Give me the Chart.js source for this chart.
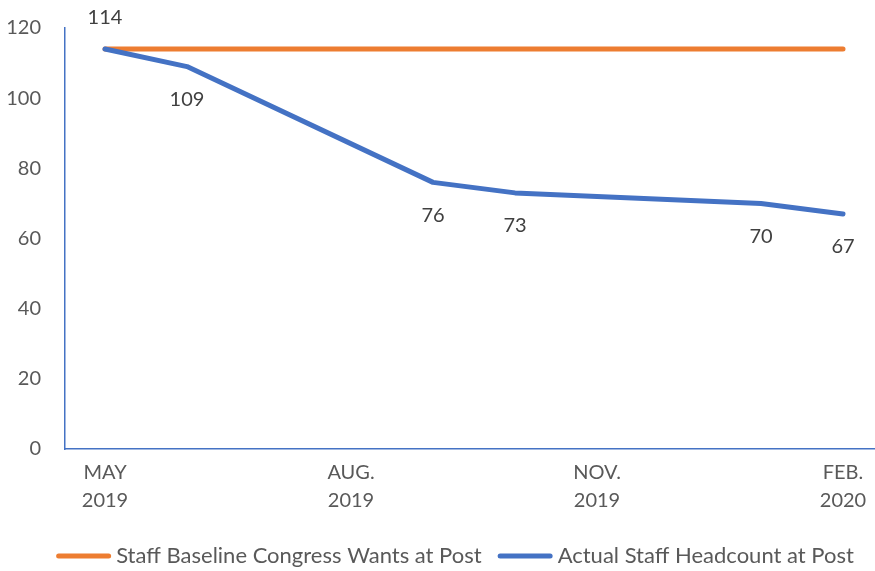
<!DOCTYPE html>
<html>
<head>
<meta charset="utf-8">
<script src="https://cdn.jsdelivr.net/npm/chart.js@4.4.1/dist/chart.umd.min.js"></script>
<style>
  html, body { margin: 0; padding: 0; background: #fff; }
  #wrap { width: 875px; height: 571px; }
</style>
</head>
<body>
<div id="wrap"><canvas id="chartJSContainer" width="875" height="571"></canvas></div>
<script>
// monthly points, May 2019 .. Feb 2020
const months = ['May 2019','Jun 2019','Jul 2019','Aug 2019','Sep 2019','Oct 2019','Nov 2019','Dec 2019','Jan 2020','Feb 2020'];
const baseline = [114,114,114,114,114,114,114,114,114,114];
const actual = [114,109,null,null,76,73,null,71,70,67];
const labelled = [true,true,false,false,true,true,false,false,true,true];
const tickPositions = [0,3,6,9];
const tickLabels = [['MAY','2019'],['AUG.','2019'],['NOV.','2019'],['FEB.','2020']];
const yTicks = [0,20,40,60,80,100,120];

const ORANGE = '#ED7D31';
const BLUE = '#4472C4';
const FONT = 'Lato';

const toPoints = (arr) => arr.map((v,i)=>({x:i, y:v}));

const valueLabels = {
  id: 'valueLabels',
  afterDatasetsDraw(chart){
    const meta = chart.getDatasetMeta(1);
    const ctx = chart.ctx;
    ctx.save();
    ctx.font = '20px ' + FONT;
    ctx.fillStyle = '#404040';
    ctx.textAlign = 'center';
    ctx.textBaseline = 'middle';
    meta.data.forEach((pt,i)=>{
      if(!labelled[i] || actual[i]==null) return;
      const dy = i===0 ? -32 : 33; //first label sits above the line
      ctx.fillText(String(actual[i]), pt.x, pt.y + dy);
    });
    ctx.restore();
  }
};

// legend drawn by hand so the spacing matches the Excel one
const lineLegend = {
  id: 'lineLegend',
  afterDraw(chart){
    const ctx = chart.ctx;
    const sets = chart.data.datasets;
    const lineW = 55, textGap = 5, itemGap = 16, cy = 556, cx = 455;
    ctx.save();
    ctx.font = '22px ' + FONT;
    const widths = sets.map(d => lineW + textGap + ctx.measureText(d.label).width);
    const total = widths.reduce((a,b)=>a+b,0) + itemGap*(sets.length-1);
    let x = cx - total/2;
    sets.forEach((d,i)=>{
      ctx.strokeStyle = d.borderColor;
      ctx.lineWidth = 5;
      ctx.lineCap = 'round';
      ctx.beginPath();
      ctx.moveTo(x+2.5, cy);
      ctx.lineTo(x+lineW-2.5, cy);
      ctx.stroke();
      ctx.fillStyle = '#595959';
      ctx.textBaseline = 'middle';
      ctx.textAlign = 'left';
      ctx.fillText(d.label, x + lineW + textGap, cy);
      x += widths[i] + itemGap;
    });
    ctx.restore();
  }
};

var options = {
  type: 'line',
  data: {
    datasets: [
      {
        label: 'Staff Baseline Congress Wants at Post',
        data: toPoints(baseline),
        borderColor: ORANGE,
        backgroundColor: ORANGE,
        borderWidth: 5,
        pointRadius: 0,
        borderCapStyle: 'round',
        order: 1,
      },
      {
        label: 'Actual Staff Headcount at Post',
        data: toPoints(actual),
        borderColor: BLUE,
        backgroundColor: BLUE,
        borderWidth: 5,
        pointRadius: 0,
        spanGaps: true,
        borderCapStyle: 'round',
        borderJoinStyle: 'round',
        order: 0,
      },
    ],
  },
  options: {
    responsive: false,
    animation: false,
    layout: { padding: { top: 22, left: 0, right: 0, bottom: 38 } },
    scales: {
      x: {
        type: 'linear',
        min: -0.488,
        max: 9.39,
        grid: { display: false },
        border: { display: true, color: BLUE, width: 1.5 },
        afterBuildTicks: (scale) => { scale.ticks = tickPositions.map(v=>({value:v})); },
        afterFit: (scale) => { scale.height = 84; },
        ticks: {
          autoSkip: false,
          maxRotation: 0,
          padding: 2,
          color: '#595959',
          font: { family: FONT, size: 20, lineHeight: 1.4 },
          callback: (v) => { const k = tickPositions.indexOf(v); return k < 0 ? '' : tickLabels[k]; },
        },
      },
      y: {
        min: 0,
        max: 120,
        grid: { display: false },
        border: { display: true, color: BLUE, width: 1.5 },
        afterBuildTicks: (scale) => { scale.ticks = yTicks.map(v=>({value:v})); },
        afterFit: (scale) => { scale.width = 65; },
        ticks: {
          padding: 16,
          color: '#595959',
          font: { family: FONT, size: 20 },
        },
      },
    },
    plugins: {
      tooltip: { enabled: false },
      legend: { display: false },
    },
  },
  plugins: [valueLabels, lineLegend],
};

var ctx = document.getElementById('chartJSContainer').getContext('2d');
new Chart(ctx, options);
</script>
</body>
</html>
